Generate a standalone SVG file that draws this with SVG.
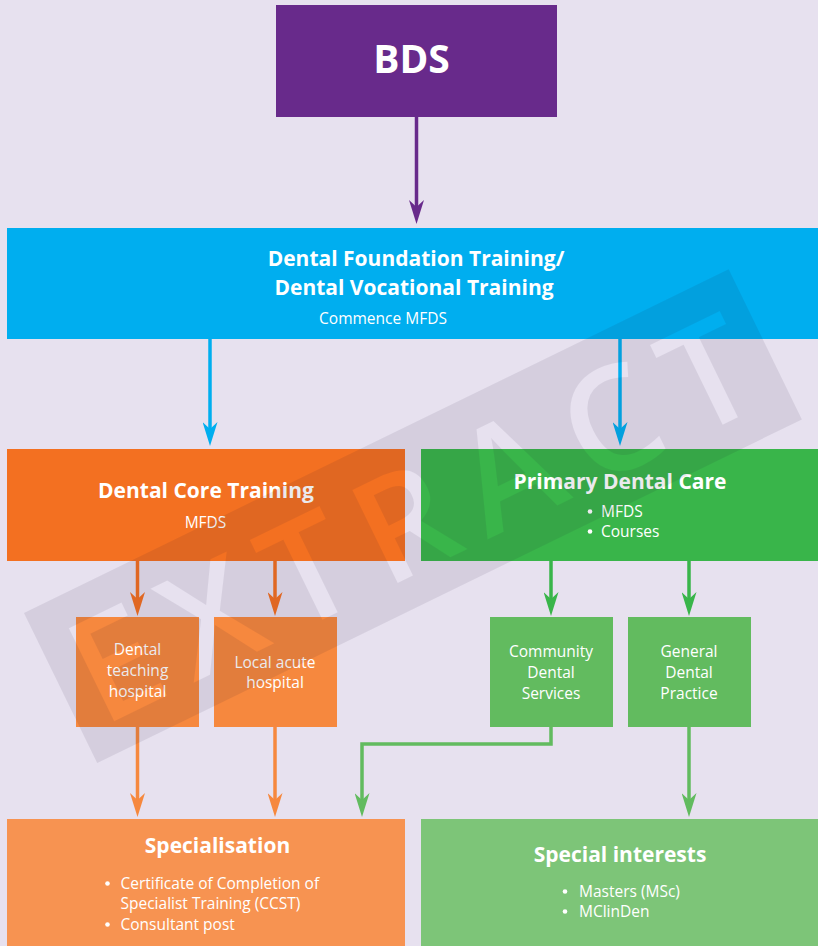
<svg xmlns="http://www.w3.org/2000/svg" width="818" height="946" viewBox="0 0 818 946">
<style>
.t{font-family:"Open Sans","Liberation Sans",sans-serif;fill:#fff;text-anchor:middle}
.h{font-weight:700;font-size:21px}
.b{font-size:15.5px}
.l{text-anchor:start}
.c{fill:none;stroke-width:3.5}
</style>
<defs>
<marker id="mP" viewBox="0 0 24 15" refX="14" refY="7.5" markerWidth="24" markerHeight="15" markerUnits="userSpaceOnUse" orient="auto"><path d="M0,0 L24,7.5 L0,15 L7,7.5 Z" fill="#682a8b"/></marker>
<marker id="mB" viewBox="0 0 24 15" refX="14" refY="7.5" markerWidth="24" markerHeight="15" markerUnits="userSpaceOnUse" orient="auto"><path d="M0,0 L24,7.5 L0,15 L7,7.5 Z" fill="#00aeef"/></marker>
<marker id="mO" viewBox="0 0 24 15" refX="14" refY="7.5" markerWidth="24" markerHeight="15" markerUnits="userSpaceOnUse" orient="auto"><path d="M0,0 L24,7.5 L0,15 L7,7.5 Z" fill="#f37021"/></marker>
<marker id="mO2" viewBox="0 0 24 15" refX="14" refY="7.5" markerWidth="24" markerHeight="15" markerUnits="userSpaceOnUse" orient="auto"><path d="M0,0 L24,7.5 L0,15 L7,7.5 Z" fill="#f6883e"/></marker>
<marker id="mG" viewBox="0 0 24 15" refX="14" refY="7.5" markerWidth="24" markerHeight="15" markerUnits="userSpaceOnUse" orient="auto"><path d="M0,0 L24,7.5 L0,15 L7,7.5 Z" fill="#39b54a"/></marker>
<marker id="mG2" viewBox="0 0 24 15" refX="14" refY="7.5" markerWidth="24" markerHeight="15" markerUnits="userSpaceOnUse" orient="auto"><path d="M0,0 L24,7.5 L0,15 L7,7.5 Z" fill="#62bb5f"/></marker>
<mask id="wm" maskUnits="userSpaceOnUse" x="0" y="0" width="818" height="946">
<g transform="translate(24,613) rotate(-26)">
<rect x="0" y="0" width="784" height="167" fill="#fff"/>
<text x="20" y="137" font-family="Open Sans, Liberation Sans, sans-serif" font-weight="600" font-size="145" textLength="740" lengthAdjust="spacing" fill="#000">EXTRACT</text>
</g>
</mask>
</defs>
<rect width="818" height="946" fill="#e7e1ef"/>

<g id="connectors">
<path class="c" d="M416.5,117 V214" stroke="#682a8b" marker-end="url(#mP)"/>
<path class="c" d="M210,339 V436" stroke="#00aeef" marker-end="url(#mB)"/>
<path class="c" d="M620,339 V436" stroke="#00aeef" marker-end="url(#mB)"/>
<path class="c" d="M137.5,561 V606" stroke="#f37021" marker-end="url(#mO)"/>
<path class="c" d="M275,561 V606" stroke="#f37021" marker-end="url(#mO)"/>
<path class="c" d="M551,561 V606" stroke="#39b54a" marker-end="url(#mG)"/>
<path class="c" d="M689,561 V606" stroke="#39b54a" marker-end="url(#mG)"/>
<path class="c" d="M137.5,727 V807" stroke="#f6883e" marker-end="url(#mO2)"/>
<path class="c" d="M275,727 V807" stroke="#f6883e" marker-end="url(#mO2)"/>
<path class="c" d="M551,727 V744 H362 V807" stroke="#62bb5f" marker-end="url(#mG2)"/>
<path class="c" d="M689,727 V807" stroke="#62bb5f" marker-end="url(#mG2)"/>
</g>

<g id="bds">
<rect x="276" y="5" width="281" height="112" fill="#682a8b"/>
<text class="t" x="411.5" y="73" font-weight="700" font-size="39">BDS</text>
</g>

<g id="foundation">
<rect x="7" y="228" width="811" height="111" fill="#00aeef"/>
<text class="t h" x="416" y="266" font-size="21.5">Dental Foundation Training/</text>
<text class="t h" x="414" y="295" font-size="21.5">Dental Vocational Training</text>
<text class="t b" x="383" y="324">Commence MFDS</text>
</g>

<g id="core">
<rect x="7" y="449" width="398" height="112" fill="#f37021"/>
<text class="t h" x="206" y="498">Dental Core Training</text>
<text class="t b" x="205.5" y="528">MFDS</text>
</g>

<g id="primary">
<rect x="421" y="449" width="397" height="112" fill="#39b54a"/>
<text class="t h" x="620" y="489">Primary Dental Care</text>
<circle cx="590" cy="511.5" r="2.3" fill="#fff"/>
<text class="t b l" x="601" y="517">MFDS</text>
<circle cx="590" cy="531.5" r="2.3" fill="#fff"/>
<text class="t b l" x="601" y="537">Courses</text>
</g>

<g id="teaching">
<rect x="76" y="617" width="123" height="110" fill="#f6883e"/>
<text class="t b" x="137.5" y="655">Dental</text>
<text class="t b" x="137.5" y="676">teaching</text>
<text class="t b" x="137.5" y="697">hospital</text>
</g>

<g id="acute">
<rect x="214" y="617" width="123" height="110" fill="#f6883e"/>
<text class="t b" x="275" y="667.5">Local acute</text>
<text class="t b" x="275" y="688">hospital</text>
</g>

<g id="community">
<rect x="490" y="617" width="123" height="110" fill="#62bb5f"/>
<text class="t b" x="551" y="657">Community</text>
<text class="t b" x="551" y="678">Dental</text>
<text class="t b" x="551" y="699">Services</text>
</g>

<g id="general">
<rect x="628" y="617" width="123" height="110" fill="#62bb5f"/>
<text class="t b" x="689" y="657">General</text>
<text class="t b" x="689" y="678">Dental</text>
<text class="t b" x="689" y="699">Practice</text>
</g>

<g id="specialisation">
<rect x="7" y="819" width="398" height="127" fill="#f79351"/>
<text class="t h" x="217.5" y="853">Specialisation</text>
<circle cx="107.5" cy="883.5" r="2.3" fill="#fff"/>
<text class="t b l" x="120.5" y="889">Certificate of Completion of</text>
<text class="t b l" x="120.5" y="909">Specialist Training (CCST)</text>
<circle cx="107.5" cy="924.5" r="2.3" fill="#fff"/>
<text class="t b l" x="120.5" y="930">Consultant post</text>
</g>

<g id="interests">
<rect x="421" y="819" width="397" height="127" fill="#7dc578"/>
<text class="t h" x="620" y="862">Special interests</text>
<circle cx="565" cy="891.5" r="2.3" fill="#fff"/>
<text class="t b l" x="579" y="897">Masters (MSc)</text>
<circle cx="565" cy="911.5" r="2.3" fill="#fff"/>
<text class="t b l" x="579" y="917">MClinDen</text>
</g>

<g id="watermark">
<rect width="818" height="946" fill="#1a0a30" fill-opacity="0.085" mask="url(#wm)"/>
</g>
</svg>
